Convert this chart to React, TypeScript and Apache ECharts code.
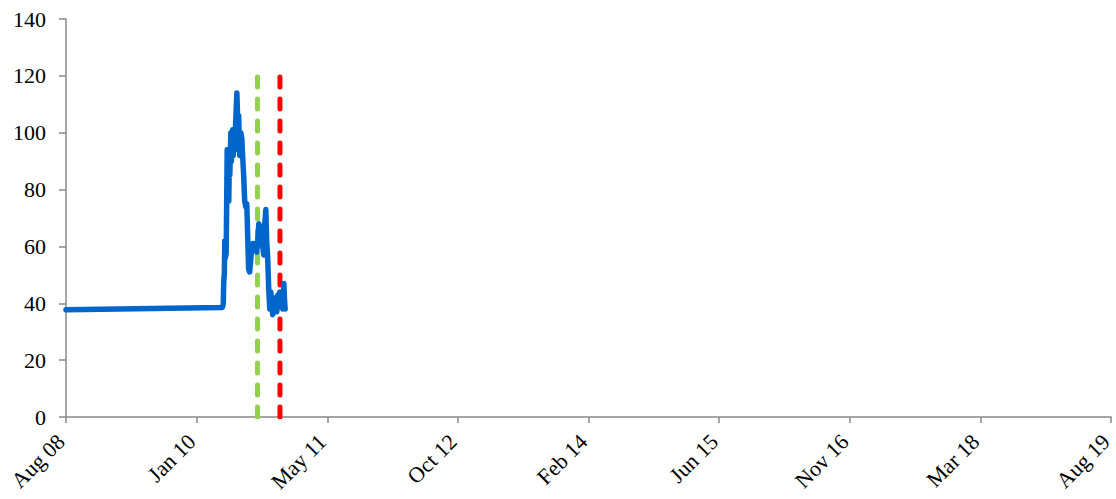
import React, { useEffect, useRef } from "react";
import * as echarts from "echarts";

const startDate = "2008-08-24";
const axisDays = { min: 0, max: 4000, interval: 500 };
const yTicks = { min: 0, max: 140, interval: 20 };

const dates: string[] = [
  "2008-08-24", "2010-04-14", "2010-04-16", "2010-04-18", "2010-04-20", "2010-04-22",
  "2010-04-24", "2010-04-26", "2010-04-27", "2010-04-29", "2010-05-01", "2010-05-03",
  "2010-05-05", "2010-05-07", "2010-05-09", "2010-05-11", "2010-05-13", "2010-05-17",
  "2010-05-19", "2010-05-21", "2010-05-24", "2010-05-26", "2010-05-28", "2010-06-01",
  "2010-06-05", "2010-06-09", "2010-06-11", "2010-06-13", "2010-06-14", "2010-06-16",
  "2010-06-18", "2010-06-20", "2010-06-24", "2010-06-26", "2010-06-28", "2010-07-01",
  "2010-07-05", "2010-07-09", "2010-07-13", "2010-07-17", "2010-07-21", "2010-07-24",
  "2010-07-28", "2010-08-01", "2010-08-05", "2010-08-09", "2010-08-13", "2010-08-16",
  "2010-08-20", "2010-08-24", "2010-08-28", "2010-09-01", "2010-09-05", "2010-09-08",
  "2010-09-12", "2010-09-16", "2010-09-20", "2010-09-24", "2010-09-28", "2010-10-01",
  "2010-10-05", "2010-10-09", "2010-10-13", "2010-10-17", "2010-10-21", "2010-10-24",
  "2010-10-28", "2010-11-01", "2010-11-05", "2010-11-09", "2010-11-13", "2010-11-16",
  "2010-11-20", "2010-11-24", "2010-11-28", "2010-12-02", "2010-12-06", "2010-12-09",
  "2010-12-11",
];

const values: number[] = [
  37.7, 38.5, 39, 40, 48, 50,
  62, 56, 60, 57, 75, 94,
  80, 92, 76, 88, 85, 100,
  90, 95, 101, 92, 99, 96,
  105, 114, 108, 100, 94, 106,
  96, 92, 100, 99, 98, 92,
  85, 76, 74, 75, 62, 52,
  51, 55, 60, 61, 60, 61,
  59, 58, 62, 68, 66, 62,
  67, 60, 57, 68, 73, 62,
  56, 45, 38, 44, 40, 36,
  41, 38, 42, 37, 43, 40,
  44, 39, 42, 38, 47, 40,
  38,
];

const greenDate = "2010-08-27";
const redDate = "2010-11-21";
const markerRange = [0, 123];

const MONTHS = ["Jan", "Feb", "Mar", "Apr", "May", "Jun", "Jul", "Aug", "Sep", "Oct", "Nov", "Dec"];
const DAY = 86400000;
const toDays = (d: string) => Math.round((Date.parse(d + "T00:00:00Z") - Date.parse(startDate + "T00:00:00Z")) / DAY);
const fmt = (days: number) => {
  const d = new Date(Date.parse(startDate + "T00:00:00Z") + days * DAY);
  return `${MONTHS[d.getUTCMonth()]} ${String(d.getUTCFullYear() % 100).padStart(2, "0")}`;
};

export default function App() {
  const ref = useRef<HTMLDivElement>(null);
  useEffect(() => {
    document.body.style.margin = "0";
    if (!ref.current) return;
    const chart = echarts.init(ref.current, null, { renderer: "svg" });
    const font = "'Liberation Serif', 'DejaVu Serif', serif";
    const lineData = dates.map((d, i) => [toDays(d), values[i]]);
    const vline = (d: string) => markerRange.map((v) => [toDays(d), v]);
    chart.setOption({
      animation: false,
      grid: { left: 66, right: 5, top: 19, bottom: 82, containLabel: false, outerBoundsMode: "none" },
      xAxis: {
        type: "value",
        min: axisDays.min,
        max: axisDays.max,
        interval: axisDays.interval,
        splitLine: { show: false },
        axisLine: { lineStyle: { color: "#898989", width: 1.5 } },
        axisTick: { show: true, length: 6, lineStyle: { color: "#898989", width: 1.5 } },
        axisLabel: {
          rotate: 45,
          margin: 16,
          padding: [0, 7, 0, 0],
          color: "#000",
          fontFamily: font,
          fontSize: 22,
          formatter: (v: number) => fmt(v),
        },
      },
      yAxis: {
        type: "value",
        min: yTicks.min,
        max: yTicks.max,
        interval: yTicks.interval,
        splitLine: { show: false },
        axisLine: { show: true, lineStyle: { color: "#898989", width: 1.5 } },
        axisTick: { show: true, length: 7, lineStyle: { color: "#898989", width: 1.5 } },
        axisLabel: { margin: 20, color: "#000", fontFamily: font, fontSize: 22 },
      },
      series: [
        {
          type: "line",
          data: vline(greenDate),
          showSymbol: false,
          lineStyle: { color: "#92D050", width: 5, type: [10, 12], cap: "round" },
          z: 2,
        },
        {
          type: "line",
          data: vline(redDate),
          showSymbol: false,
          lineStyle: { color: "#FF0000", width: 5, type: [10, 12], cap: "round" },
          z: 2,
        },
        {
          type: "line",
          data: lineData,
          showSymbol: false,
          lineStyle: { color: "#0066CC", width: 5.5, join: "round", cap: "round" },
          z: 3,
        },
      ],
    });
    return () => chart.dispose();
  }, []);
  return <div ref={ref} style={{ width: 1116, height: 499 }} />;
}
